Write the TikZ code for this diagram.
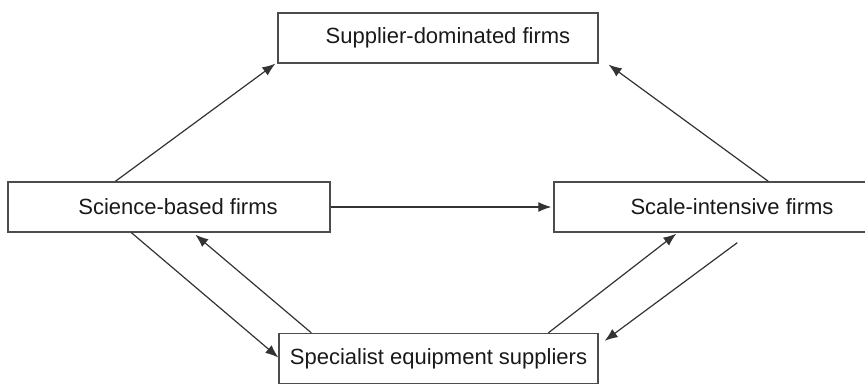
\documentclass[tikz,border=0pt]{standalone}
\usepackage{fontspec}
\setmainfont{Liberation Sans}
\usepackage{tikz}
\usetikzlibrary{arrows.meta,calc}

\begin{document}
\begin{tikzpicture}[x=1pt,y=-1pt,
	firm/.style={draw=black!70, line width=1.3pt, minimum height=50pt, inner sep=0pt,
		font=\fontsize{22}{26}\selectfont, text=black!90},
	flow/.style={draw=black!80, line width=1.2pt, -{Latex[length=13pt,width=10pt]}}]

\useasboundingbox (0,0) rectangle (865,387);

\node[firm, minimum width=320pt] (sup) at (438,38) {\hspace*{20pt}Supplier-dominated firms};
\node[firm, minimum width=322pt] (sci) at (169,207) {\hspace*{18pt}Science-based firms};
\node[firm, minimum width=334pt] (scale) at (721,207) {\hspace*{22pt}Scale-intensive firms};
\node[firm, minimum width=319pt] (eq) at (438.5,358.5) {Specialist equipment suppliers};

\coordinate (gap) at ([xshift=184pt,yshift=-10pt]scale.south west);

\draw[flow] ([xshift=108pt]sci.north west)--([xshift=-2pt]sup.south west);
\draw[flow] ([xshift=215pt]scale.north west)--([xshift=10pt,yshift=-1pt]sup.south east);
\draw[flow] (sci.east)--([xshift=-2pt]scale.west);
\draw[flow] ([xshift=124pt]sci.south west)--([yshift=1pt]eq.west);
\draw[flow] ([xshift=33pt]eq.north west)--([xshift=188pt,yshift=-2pt]sci.south west);
\draw[flow] ([xshift=270pt]eq.north west)--([xshift=123pt,yshift=-1pt]scale.south west);
\draw[flow] (gap)--([xshift=6pt,yshift=-8pt]eq.north east);

\end{tikzpicture}
\end{document}
